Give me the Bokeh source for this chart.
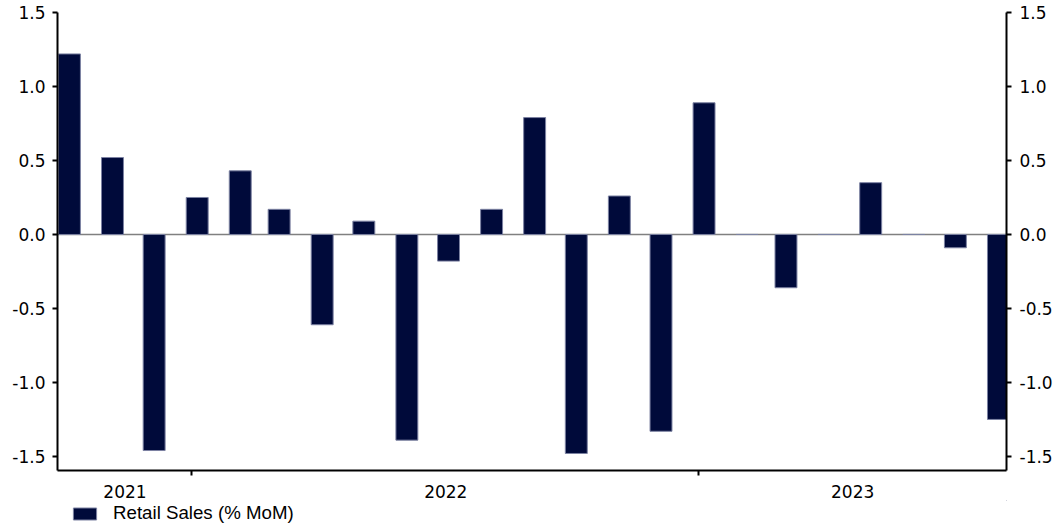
import pandas as pd
from bokeh.plotting import figure
from bokeh.layouts import column
from bokeh.models import (Range1d, LinearAxis, FixedTicker, NumeralTickFormatter,
                          Span, Legend, LegendItem, ColumnDataSource)
from bokeh.embed import file_html
from bokeh.resources import INLINE

# ---- data ----
months = ["2021-10", "2021-11", "2021-12",
          "2022-01", "2022-02", "2022-03", "2022-04", "2022-05", "2022-06",
          "2022-07", "2022-08", "2022-09", "2022-10", "2022-11", "2022-12",
          "2023-01", "2023-02", "2023-03", "2023-04", "2023-05", "2023-06",
          "2023-07", "2023-08"]
values = [1.22, 0.52, -1.46,
          0.25, 0.43, 0.17, -0.61, 0.09, -1.39,
          -0.18, 0.17, 0.79, -1.48, 0.26, -1.33,
          0.89, 0.0, -0.36, 0.0, 0.35, 0.0,
          -0.09, -1.25]
years = ["2021", "2022", "2023"]
y_ticks = [-1.5, -1.0, -0.5, 0.0, 0.5, 1.0, 1.5]
series_name = "Retail Sales (% MoM)"

# ---- positions (days since base) ----
base = pd.Timestamp("2021-01-01")
dates = pd.to_datetime(months) + pd.Timedelta(days=4)
x = [(d - base).days for d in dates]
x_start = x[0] - 8.6
x_end = x[-1] + 5.8
year_starts = [(pd.Timestamp(f"{y}-01-01") - base).days for y in years]
boundaries = [b for b in year_starts if x_start < b < x_end]
edges = [x_start] + boundaries + [x_end]
centers = [int(round((edges[i] + edges[i + 1]) / 2)) for i in range(len(edges) - 1)]

BAR = "#000A3A"
EDGE = "#7C82A2"
FONT = "DejaVu Sans"
W = 1055
BL, BR = 57, 47

p = figure(width=W, height=500, output_backend="svg", toolbar_location=None,
           x_range=Range1d(x_start, x_end), y_range=Range1d(-1.595, 1.5),
           min_border_left=BL, min_border_right=BR, min_border_top=12,
           min_border_bottom=30)
p.outline_line_color = None
p.xgrid.visible = False
p.ygrid.visible = False
p.background_fill_color = "white"
p.border_fill_color = "white"

zero = Span(location=0, dimension="width", line_color="#808080", line_width=1.5,
            level="underlay")
p.add_layout(zero)

src = ColumnDataSource(dict(x=x, top=values))
bars = p.vbar(x="x", top="top", bottom=0, width=15.8, source=src,
              fill_color=BAR, line_color=EDGE, line_width=1)

def style_y(ax, standoff):
    ax.ticker = FixedTicker(ticks=y_ticks, minor_ticks=[])
    ax.formatter = NumeralTickFormatter(format="0.0")
    ax.axis_line_width = 2
    ax.axis_line_color = "black"
    ax.major_tick_in = 0
    ax.major_tick_out = 5
    ax.major_tick_line_width = 2
    ax.major_tick_line_color = "black"
    ax.minor_tick_line_color = None
    ax.major_label_text_font = FONT
    ax.major_label_text_font_size = "17px"
    ax.major_label_text_color = "black"
    ax.major_label_standoff = standoff

style_y(p.yaxis[0], 7)
right = LinearAxis()
p.add_layout(right, "right")
style_y(right, 8)

xa = p.xaxis[0]
xa.ticker = FixedTicker(ticks=centers, minor_ticks=boundaries)
xa.major_label_overrides = {c: y for c, y in zip(centers, years)}
xa.axis_line_width = 2
xa.axis_line_color = "black"
xa.major_tick_line_color = None
xa.major_tick_in = 0
xa.major_tick_out = 0
xa.minor_tick_in = 0
xa.minor_tick_out = 5
xa.minor_tick_line_width = 2
xa.minor_tick_line_color = "black"
xa.major_label_text_font = FONT
xa.major_label_text_font_size = "17px"
xa.major_label_text_color = "black"
xa.major_label_standoff = 9

# ---- legend strip below the chart ----
lg = figure(width=W, height=23, output_backend="svg", toolbar_location=None,
            x_axis_type=None, y_axis_type=None,
            min_border_left=BL, min_border_right=BR, min_border_top=0,
            min_border_bottom=0,
            x_range=Range1d(0, 1), y_range=Range1d(0, 1))
lg.outline_line_color = None
lg.xgrid.visible = False
lg.ygrid.visible = False
lg.background_fill_color = "white"
lg.border_fill_color = "white"
# key renderer sits outside the strip's visible range; only its legend swatch shows
key = lg.vbar(x=[5], top=[5], bottom=4, width=1, fill_color=BAR,
              line_color=EDGE, line_width=1)
legend = Legend(items=[LegendItem(label=series_name, renderers=[key])],
                location=(13, -1), orientation="horizontal",
                border_line_color=None, background_fill_alpha=0,
                padding=0, margin=0, spacing=0,
                glyph_width=29, glyph_height=15, label_standoff=14,
                label_text_font="Liberation Sans", label_text_font_size="18.7px",
                label_text_color="black", label_height=20)
lg.add_layout(legend, "center")

layout = column(p, lg, spacing=0)
open("out.html", "w").write(file_html(layout, INLINE))
